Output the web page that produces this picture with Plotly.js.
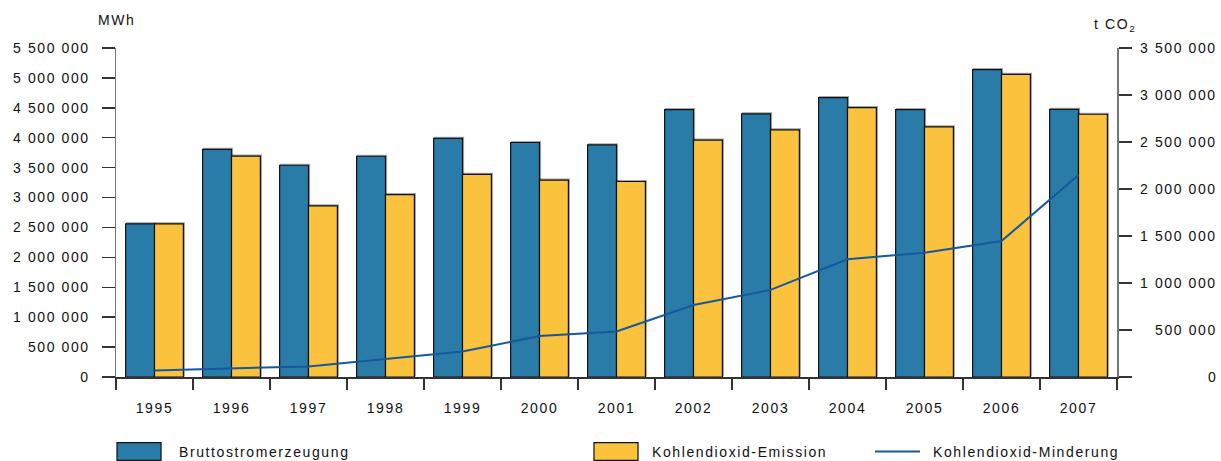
<!DOCTYPE html>
<html>
<head>
<meta charset="utf-8">
<script src="https://cdn.plot.ly/plotly-3.0.1.min.js"></script>
<style>
  html, body { margin: 0; padding: 0; background: #fff; }
  #chart { width: 1221px; height: 461px; }
  svg text { letter-spacing: 1.6px; }
  .bars .point path { filter: drop-shadow(1.5px -1px 0.6px rgba(0,0,0,0.35)); }
</style>
</head>
<body>
<div id="chart"></div>
<script>
// ---- data ----
var years = ['1995','1996','1997','1998','1999','2000','2001','2002','2003','2004','2005','2006','2007'];
var bruttostrom = [2560000, 3805000, 3540000, 3690000, 3990000, 3920000, 3880000, 4470000, 4400000, 4670000, 4470000, 5140000, 4475000];
var co2Emission = [1630000, 2350000, 1820000, 1940000, 2155000, 2095000, 2080000, 2520000, 2630000, 2865000, 2660000, 3220000, 2795000];
var co2Minderung = [70000, 88000, 113000, 191000, 272000, 435000, 484000, 765000, 927000, 1253000, 1323000, 1447000, 2148000];

var seriesNames = ['Bruttostromerzeugung', 'Kohlendioxid-Emission', 'Kohlendioxid-Minderung'];

var leftTickVals = [0, 500000, 1000000, 1500000, 2000000, 2500000, 3000000, 3500000, 4000000, 4500000, 5000000, 5500000];
var leftTickText = ['0', '500 000', '1 000 000', '1 500 000', '2 000 000', '2 500 000', '3 000 000', '3 500 000', '4 000 000', '4 500 000', '5 000 000', '5 500 000'];
var rightTickVals = [0, 500000, 1000000, 1500000, 2000000, 2500000, 3000000, 3500000];
var rightTickText = ['0', '500 000', '1 000 000', '1 500 000', '2 000 000', '2 500 000', '3 000 000', '3 500 000'];

// ---- styles ----
var BLUE = '#2a7ca8';
var YELLOW = '#fbc23d';
var LINE = '#14599f';
var FONT = '"Liberation Sans", Arial, Helvetica, sans-serif';

var traces = [
  {
    type: 'bar', name: seriesNames[0], x: years, y: bruttostrom,
    xaxis: 'x', yaxis: 'y', offsetgroup: 'a',
    marker: { color: BLUE, line: { color: '#111', width: 1.2 } },
    hoverinfo: 'skip'
  },
  {
    type: 'bar', name: seriesNames[1], x: years, y: co2Emission,
    xaxis: 'x', yaxis: 'y2', offsetgroup: 'b',
    marker: { color: YELLOW, line: { color: '#111', width: 1.2 } },
    hoverinfo: 'skip'
  },
  {
    type: 'scatter', mode: 'lines', name: seriesNames[2], x: years, y: co2Minderung,
    xaxis: 'x', yaxis: 'y2',
    line: { color: LINE, width: 2 },
    hoverinfo: 'skip'
  }
];

var annotations = [
  { text: 'MWh', xref: 'paper', yref: 'paper', x: 0, y: 1.086, xanchor: 'center', yanchor: 'middle', showarrow: false, font: { size: 14, color: '#111', family: FONT } },
  { text: 't CO<sub>2</sub>', xref: 'paper', yref: 'paper', x: 0.998, y: 1.07, xanchor: 'center', yanchor: 'middle', showarrow: false, font: { size: 14, color: '#111', family: FONT } }
];
// right axis tick labels, right-aligned
for (var i = 0; i < rightTickVals.length; i++) {
  annotations.push({ text: rightTickText[i], xref: 'paper', yref: 'y2', x: 1, y: rightTickVals[i], xanchor: 'right', yanchor: 'middle', xshift: 102, showarrow: false, font: { size: 14, color: '#111', family: FONT } });
}
// custom legend
var legendY = -0.2266;
var legendItems = [
  { x0: 0.001, x1: 0.045, tx: 0.061, kind: 'rect', color: BLUE },
  { x0: 0.4775, x1: 0.5215, tx: 0.533, kind: 'rect', color: YELLOW },
  { x0: 0.7582, x1: 0.8032, tx: 0.8142, kind: 'line', color: LINE }
];
var shapes = [];
legendItems.forEach(function (it, k) {
  if (it.kind === 'rect') {
    shapes.push({ type: 'rect', xref: 'paper', yref: 'paper', x0: it.x0, x1: it.x1, y0: legendY + 0.027, y1: legendY - 0.027, fillcolor: it.color, line: { color: '#111', width: 1.2 } });
  } else {
    shapes.push({ type: 'line', xref: 'paper', yref: 'paper', x0: it.x0, x1: it.x1, y0: legendY, y1: legendY, line: { color: it.color, width: 2 } });
  }
  annotations.push({ text: seriesNames[k], xref: 'paper', yref: 'paper', x: it.tx, y: legendY, xanchor: 'left', yanchor: 'middle', showarrow: false, font: { size: 14, color: '#111', family: FONT } });
});

var layout = {
  width: 1221, height: 461,
  margin: { l: 116, r: 104, t: 47.7, b: 83.7, pad: 0 },
  paper_bgcolor: '#fff', plot_bgcolor: '#fff',
  font: { family: FONT, size: 14, color: '#111' },
  showlegend: false,
  barmode: 'group', bargap: 0.25, bargroupgap: 0,
  xaxis: {
    type: 'category', tickson: 'boundaries', ticks: 'outside', ticklen: 11, tickwidth: 1.5, tickcolor: '#333',
    showline: true, linecolor: '#333', linewidth: 1.5, showgrid: false, zeroline: false,
    ticklabelstandoff: 18, tickfont: { size: 14, color: '#111', family: FONT }, fixedrange: true
  },
  yaxis: {
    range: [0, 5500000], tickvals: leftTickVals, ticktext: leftTickText,
    ticks: 'outside', ticklen: 13, tickwidth: 1.5, tickcolor: '#333',
    showline: true, linecolor: '#777', linewidth: 1.5, showgrid: false, zeroline: false,
    ticklabelstandoff: 9, tickfont: { size: 14, color: '#111', family: FONT }, fixedrange: true
  },
  yaxis2: {
    range: [0, 3500000], tickvals: rightTickVals, overlaying: 'y', side: 'right',
    ticks: 'outside', ticklen: 13, tickwidth: 1.5, tickcolor: '#333',
    showline: true, linecolor: '#777', linewidth: 1.5, showgrid: false, zeroline: false,
    showticklabels: false, fixedrange: true
  },
  annotations: annotations,
  shapes: shapes
};

Plotly.newPlot('chart', traces, layout, { displayModeBar: false, staticPlot: true });
</script>
</body>
</html>
